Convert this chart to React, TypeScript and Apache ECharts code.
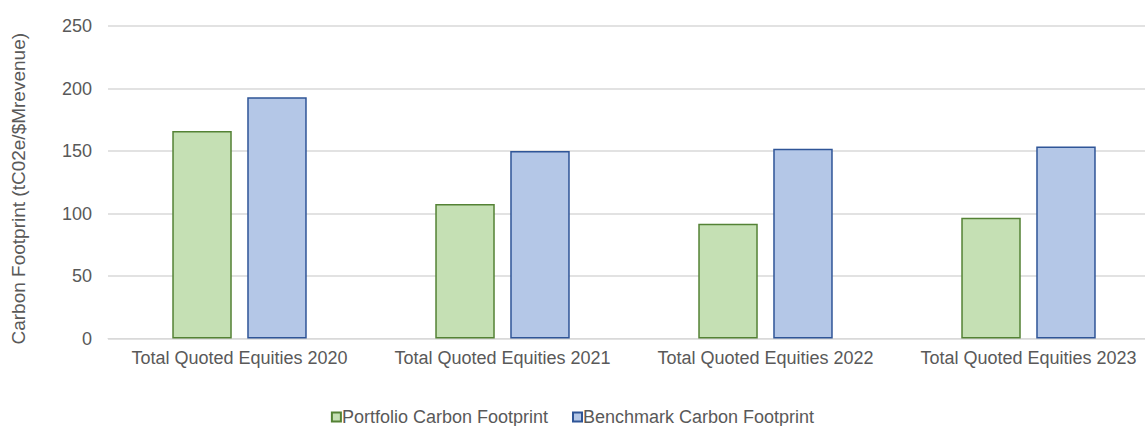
import React, { useEffect, useRef } from "react";
import * as echarts from "echarts";

const categories = [
  "Total Quoted Equities 2020",
  "Total Quoted Equities 2021",
  "Total Quoted Equities 2022",
  "Total Quoted Equities 2023",
];
const portfolio = [166, 107.6, 91.8, 96.7];
const benchmark = [193, 150, 151.9, 153.7];
const seriesNames = ["Portfolio Carbon Footprint", "Benchmark Carbon Footprint"];
const yAxisTitle = "Carbon Footprint (tC02e/$Mrevenue)";

const FONT = "'Liberation Sans', Arial, sans-serif";
const TEXT = "#595959";

export default function App() {
  const ref = useRef<HTMLDivElement>(null);
  useEffect(() => {
    if (!ref.current) return;
    const chart = echarts.init(ref.current, undefined, { renderer: "svg" });
    chart.setOption({
      animation: false,
      backgroundColor: "#ffffff",
      textStyle: { fontFamily: FONT },
      grid: {
        left: 108,
        top: 26,
        width: 1052,
        height: 312.5,
        containLabel: false,
        outerBoundsMode: "none",
      },
      legend: {
        top: 408,
        left: "center",
        padding: 0,
        itemWidth: 9,
        itemHeight: 9,
        itemGap: 24,
        icon: "rect",
        textStyle: { color: TEXT, fontSize: 18, fontFamily: FONT, padding: [0, 0, 0, -4] },
        data: seriesNames,
      },
      xAxis: {
        type: "category",
        data: categories,
        axisLine: { show: true, lineStyle: { color: "#D9D9D9", width: 1 } },
        axisTick: { show: false },
        axisLabel: { color: TEXT, fontSize: 18, fontFamily: FONT, margin: 10, interval: 0 },
      },
      yAxis: {
        type: "value",
        min: 0,
        max: 250,
        interval: 50,
        name: yAxisTitle,
        nameLocation: "middle",
        nameGap: 80,
        nameTextStyle: { color: TEXT, fontSize: 19, fontFamily: FONT, padding: [0, 13, 0, 0] },
        axisLine: { show: false },
        axisTick: { show: false },
        axisLabel: { color: TEXT, fontSize: 18, fontFamily: FONT, margin: 16 },
        splitLine: { lineStyle: { color: "#D9D9D9", width: 1.5 } },
      },
      series: [
        {
          name: seriesNames[0],
          type: "bar",
          data: portfolio,
          barWidth: 59.5,
          barGap: "26%",
          itemStyle: { color: "#C5E0B4", borderColor: "#548235", borderWidth: 1.5 },
        },
        {
          name: seriesNames[1],
          type: "bar",
          data: benchmark,
          barWidth: 59.5,
          barGap: "26%",
          itemStyle: { color: "#B4C7E7", borderColor: "#2F5597", borderWidth: 1.5 },
        },
      ],
    });
    return () => chart.dispose();
  }, []);
  return (
    <div
      ref={ref}
      style={{ position: "fixed", left: 0, top: 0, width: 1145, height: 426, overflow: "hidden" }}
    />
  );
}
